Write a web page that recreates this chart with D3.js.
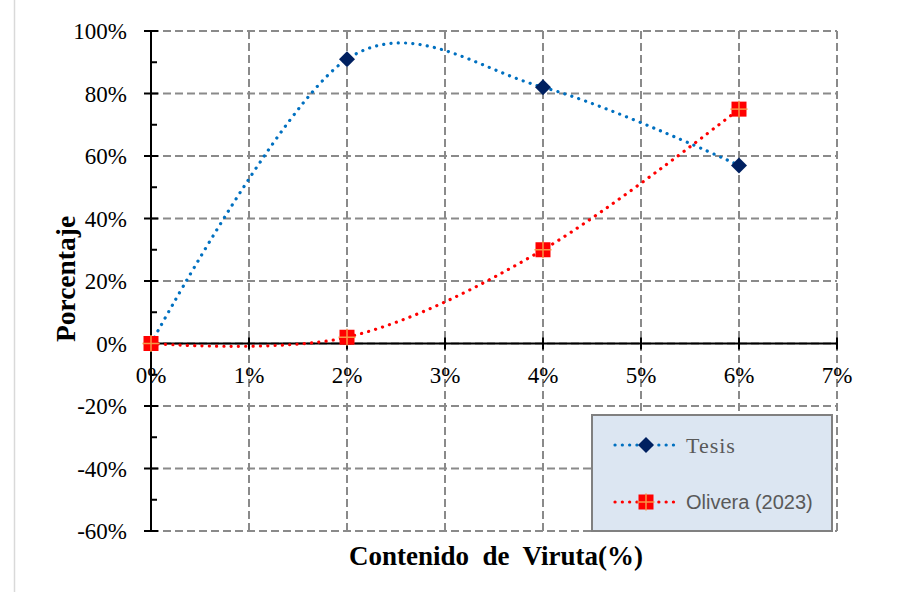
<!DOCTYPE html>
<html>
<head>
<meta charset="utf-8">
<script src="https://cdn.jsdelivr.net/npm/d3@7"></script>
<style>
  html, body { margin: 0; padding: 0; background: #fff; }
  svg { display: block; }
  .serif { font-family: "Liberation Serif", "DejaVu Serif", serif; }
  .sans { font-family: "Liberation Sans", Arial, sans-serif; }
</style>
</head>
<body>
<div id="chart"></div>
<script>
// data
const contenido = [0, 2, 4, 6];           // % viruta
const tesis = [0, 91, 82, 57];            // %
const olivera = [0, 2, 30, 75];           // %
const xTicks = [0, 1, 2, 3, 4, 5, 6, 7];
const yTicks = [-60, -40, -20, 0, 20, 40, 60, 80, 100];
const yMinor = [-50, -30, -10, 10, 30, 50, 70, 90];

const width = 907, height = 592;
const margins = { top: 31, right: 70, bottom: 61, left: 151 };

const svg = d3.select("#chart").append("svg")
    .attr("width", width)
    .attr("height", height);

// faint frame edge on the left
svg.append("line")
    .attr("x1", 14.5).attr("x2", 14.5)
    .attr("y1", 0).attr("y2", height)
    .attr("stroke", "#d9d9d9").attr("stroke-width", 1.5);

const x = d3.scaleLinear().domain([0, 7]).range([margins.left, width - margins.right]);
const y = d3.scaleLinear().domain([-60, 100]).range([height - margins.bottom, margins.top]);

const gridColor = "#8a8a8a";

// gridlines
svg.append("g")
    .selectAll("line")
    .data(yTicks)
    .join("line")
    .attr("x1", x(0)).attr("x2", x(7))
    .attr("y1", d => y(d)).attr("y2", d => y(d))
    .attr("stroke", gridColor).attr("stroke-width", 2)
    .attr("stroke-dasharray", "8 4");

svg.append("g")
    .selectAll("line")
    .data(xTicks.filter(d => d > 0))
    .join("line")
    .attr("x1", d => x(d)).attr("x2", d => x(d))
    .attr("y1", y(100)).attr("y2", y(-60))
    .attr("stroke", gridColor).attr("stroke-width", 2)
    .attr("stroke-dasharray", "8 4");

// y axis
const yAxis = svg.append("g")
    .attr("transform", `translate(${x(0)},0)`);
yAxis.append("line")
    .attr("y1", y(100)).attr("y2", y(-60))
    .attr("stroke", "#000").attr("stroke-width", 2);
yAxis.selectAll(".major")
    .data(yTicks)
    .join("line")
    .attr("class", "major")
    .attr("x1", -7).attr("x2", 7)
    .attr("y1", d => y(d)).attr("y2", d => y(d))
    .attr("stroke", "#000").attr("stroke-width", 2);
yAxis.selectAll(".minor")
    .data(yMinor)
    .join("line")
    .attr("class", "minor")
    .attr("x1", 0).attr("x2", 6)
    .attr("y1", d => y(d)).attr("y2", d => y(d))
    .attr("stroke", "#000").attr("stroke-width", 2);
yAxis.selectAll("text")
    .data(yTicks)
    .join("text")
    .attr("class", "serif")
    .attr("x", -24)
    .attr("y", d => y(d) + 8)
    .attr("text-anchor", "end")
    .attr("font-size", 23)
    .attr("fill", "#000")
    .text(d => d + "%");

// x axis on the zero line
const xAxis = svg.append("g")
    .attr("transform", `translate(0,${y(0)})`);
xAxis.append("line")
    .attr("x1", x(0)).attr("x2", x(7))
    .attr("stroke", "#000").attr("stroke-width", 2);
xAxis.selectAll(".major")
    .data(xTicks)
    .join("line")
    .attr("class", "major")
    .attr("x1", d => x(d)).attr("x2", d => x(d))
    .attr("y1", -6).attr("y2", 6)
    .attr("stroke", "#000").attr("stroke-width", 2);
xAxis.selectAll("text")
    .data(xTicks)
    .join("text")
    .attr("class", "serif")
    .attr("x", d => x(d))
    .attr("y", 39)
    .attr("text-anchor", "middle")
    .attr("font-size", 23)
    .attr("fill", "#000")
    .text(d => d + "%");

// series
const line = d3.line()
    .x(d => x(d[0]))
    .y(d => y(d[1]))
    .curve(d3.curveCardinal.tension(0));

const series = [
    { name: "Tesis", values: tesis, color: "#0070C0", marker: "diamond" },
    { name: "Olivera (2023)", values: olivera, color: "#FF0000", marker: "square" }
];

function drawMarker(g, type, cx, cy) {
    if (type === "diamond") {
        const r = 8;
        g.append("path")
            .attr("d", `M${cx},${cy - r}L${cx + r},${cy}L${cx},${cy + r}L${cx - r},${cy}Z`)
            .attr("fill", "#002060");
    } else {
        const s = 15;
        g.append("rect")
            .attr("x", cx - s / 2).attr("y", cy - s / 2)
            .attr("width", s).attr("height", s)
            .attr("fill", "#FF0000");
        g.append("line")
            .attr("x1", cx - s / 2 - 1).attr("x2", cx + s / 2 + 1)
            .attr("y1", cy).attr("y2", cy)
            .attr("stroke", "#F79646").attr("stroke-width", 1.5);
        g.append("line")
            .attr("x1", cx).attr("x2", cx)
            .attr("y1", cy - s / 2 - 1).attr("y2", cy + s / 2 + 1)
            .attr("stroke", "#F79646").attr("stroke-width", 1.5);
    }
}

for (const s of series) {
    const pts = contenido.map((c, i) => [c, s.values[i]]);
    svg.append("path")
        .datum(pts)
        .attr("d", line)
        .attr("fill", "none")
        .attr("stroke", s.color)
        .attr("stroke-width", 3.2)
        .attr("stroke-linecap", "round")
        .attr("stroke-dasharray", "0.1 7.2");
}
for (const s of series) {
    const g = svg.append("g");
    contenido.forEach((c, i) => drawMarker(g, s.marker, x(c), y(s.values[i])));
}

// legend
const legend = svg.append("g");
legend.append("rect")
    .attr("x", 592).attr("y", 415)
    .attr("width", 240).attr("height", 116)
    .attr("fill", "#DCE6F2")
    .attr("stroke", "#808080").attr("stroke-width", 2);

const legendRows = [
    { s: series[0], y: 445, cls: "serif", size: 22, baseline: 453 },
    { s: series[1], y: 502, cls: "sans", size: 20, baseline: 509 }
];
for (const r of legendRows) {
    legend.append("line")
        .attr("x1", 615).attr("x2", 678)
        .attr("y1", r.y).attr("y2", r.y)
        .attr("stroke", r.s.color).attr("stroke-width", 3.2)
        .attr("stroke-linecap", "round")
        .attr("stroke-dasharray", "0.1 7.2");
    drawMarker(legend, r.s.marker, 646, r.y);
    legend.append("text")
        .attr("class", r.cls)
        .attr("x", 686).attr("y", r.baseline)
        .attr("font-size", r.size)
        .attr("letter-spacing", r.cls === "serif" ? 1 : 0)
        .attr("fill", "#595959")
        .text(r.s.name);
}

// axis titles
svg.append("text")
    .attr("class", "serif")
    .attr("transform", `translate(75,${279}) rotate(-90)`)
    .attr("text-anchor", "middle")
    .attr("font-weight", "bold")
    .attr("font-size", 27.5)
    .attr("fill", "#000")
    .text("Porcentaje");

svg.append("text")
    .attr("class", "serif")
    .attr("x", 496).attr("y", 565)
    .attr("text-anchor", "middle")
    .attr("font-weight", "bold")
    .attr("font-size", 27)
    .attr("fill", "#000")
    .attr("xml:space", "preserve")
    .text("Contenido  de  Viruta(%)");
</script>
</body>
</html>
